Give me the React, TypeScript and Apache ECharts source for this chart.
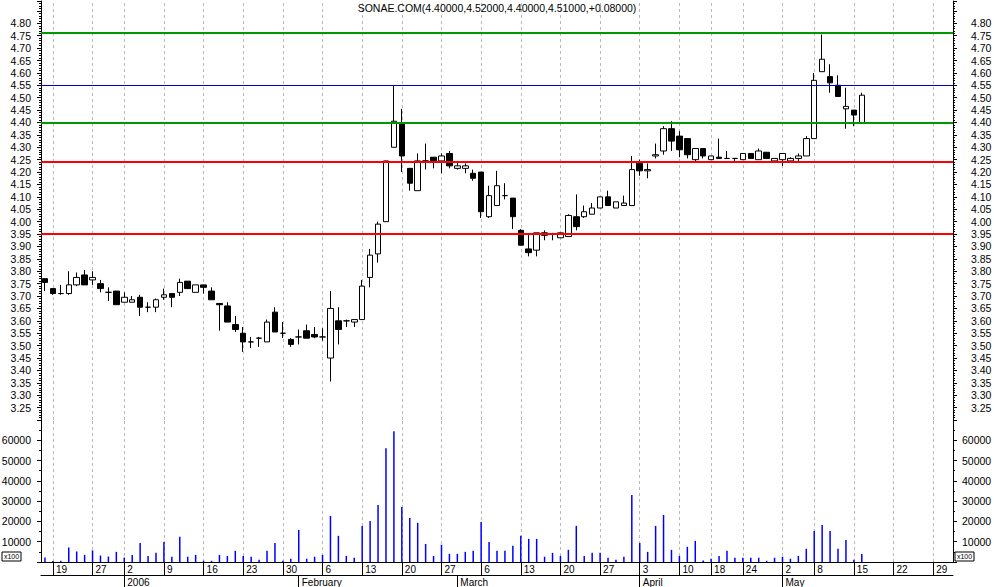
import React, { useEffect, useRef } from 'react';
import * as echarts from 'echarts';

const symbol = 'SONAE.COM';

const categories = [
  '2005-12-16', '2005-12-19', '2005-12-20', '2005-12-21', '2005-12-22', '2005-12-23', '2005-12-27', '2005-12-28', '2005-12-29', '2005-12-30',
  '2006-01-02', '2006-01-03', '2006-01-04', '2006-01-05', '2006-01-06', '2006-01-09', '2006-01-10', '2006-01-11', '2006-01-12', '2006-01-13',
  '2006-01-16', '2006-01-17', '2006-01-18', '2006-01-19', '2006-01-20', '2006-01-23', '2006-01-24', '2006-01-25', '2006-01-26', '2006-01-27',
  '2006-01-30', '2006-01-31', '2006-02-01', '2006-02-02', '2006-02-03', '2006-02-06', '2006-02-07', '2006-02-08', '2006-02-09', '2006-02-10',
  '2006-02-13', '2006-02-14', '2006-02-15', '2006-02-16', '2006-02-17', '2006-02-20', '2006-02-21', '2006-02-22', '2006-02-23', '2006-02-24',
  '2006-02-27', '2006-02-28', '2006-03-01', '2006-03-02', '2006-03-03', '2006-03-06', '2006-03-07', '2006-03-08', '2006-03-09', '2006-03-10',
  '2006-03-13', '2006-03-14', '2006-03-15', '2006-03-16', '2006-03-17', '2006-03-20', '2006-03-21', '2006-03-22', '2006-03-23', '2006-03-24',
  '2006-03-27', '2006-03-28', '2006-03-29', '2006-03-30', '2006-03-31', '2006-04-03', '2006-04-04', '2006-04-05', '2006-04-06', '2006-04-07',
  '2006-04-10', '2006-04-11', '2006-04-12', '2006-04-13', '2006-04-18', '2006-04-19', '2006-04-20', '2006-04-21', '2006-04-24', '2006-04-25',
  '2006-04-26', '2006-04-27', '2006-04-28', '2006-05-02', '2006-05-03', '2006-05-04', '2006-05-05', '2006-05-08', '2006-05-09', '2006-05-10',
  '2006-05-11', '2006-05-12', '2006-05-15', '2006-05-16', '2006-05-17', '2006-05-18', '2006-05-19', '2006-05-22', '2006-05-23', '2006-05-24',
  '2006-05-25', '2006-05-26', '2006-05-29', '2006-05-30', '2006-05-31',
];

const opens = [
  3.77, 3.73, 3.71, 3.71, 3.745, 3.785, 3.765, 3.75, 3.715, 3.72,
  3.675, 3.675, 3.695, 3.655, 3.655, 3.695, 3.71, 3.715, 3.76, 3.715,
  3.745, 3.72, 3.67, 3.66, 3.585, 3.55, 3.515, 3.53, 3.515, 3.635,
  3.55, 3.525, 3.535, 3.56, 3.545, 3.535, 3.45, 3.6, 3.6, 3.595,
  3.605, 3.775, 3.87, 4.0, 4.3, 4.395, 4.215, 4.125, 4.245, 4.26,
  4.245, 4.275, 4.215, 4.215, 4.195, 4.2, 4.02, 4.065, 4.105, 4.095,
  3.965, 3.89, 3.885, 3.955, 3.95, 3.935, 3.94, 4.02, 4.02, 4.03,
  4.055, 4.1, 4.055, 4.065, 4.065, 4.235, 4.205, 4.265, 4.285, 4.375,
  4.345, 4.335, 4.25, 4.295, 4.25, 4.26, 4.255, 4.255, 4.25, 4.275,
  4.25, 4.28, 4.245, 4.25, 4.245, 4.255, 4.265, 4.335, 4.605, 4.585,
  4.55, 4.455, 4.45, 4.4,
];
const highs = [
  3.77, 3.73, 3.745, 3.8, 3.795, 3.805, 3.8, 3.765, 3.735, 3.72,
  3.715, 3.7, 3.705, 3.675, 3.69, 3.73, 3.71, 3.77, 3.76, 3.745,
  3.745, 3.735, 3.67, 3.675, 3.62, 3.575, 3.535, 3.535, 3.605, 3.655,
  3.595, 3.53, 3.565, 3.585, 3.575, 3.57, 3.72, 3.655, 3.605, 3.605,
  3.765, 3.89, 4.0, 4.245, 4.55, 4.455, 4.215, 4.275, 4.315, 4.26,
  4.275, 4.285, 4.245, 4.235, 4.21, 4.2, 4.145, 4.205, 4.155, 4.095,
  3.97, 3.95, 3.955, 3.965, 3.955, 3.955, 4.03, 4.11, 4.065, 4.075,
  4.1, 4.125, 4.08, 4.105, 4.265, 4.25, 4.235, 4.315, 4.385, 4.405,
  4.365, 4.335, 4.295, 4.295, 4.265, 4.335, 4.285, 4.255, 4.275, 4.275,
  4.295, 4.28, 4.255, 4.275, 4.26, 4.275, 4.345, 4.6, 4.755, 4.635,
  4.59, 4.54, 4.45, 4.52,
];
const lows = [
  3.72, 3.705, 3.705, 3.705, 3.74, 3.745, 3.745, 3.715, 3.68, 3.665,
  3.675, 3.675, 3.62, 3.635, 3.635, 3.685, 3.655, 3.7, 3.73, 3.715,
  3.71, 3.685, 3.56, 3.595, 3.555, 3.475, 3.49, 3.495, 3.515, 3.555,
  3.53, 3.495, 3.505, 3.53, 3.53, 3.52, 3.355, 3.505, 3.575, 3.575,
  3.605, 3.735, 3.835, 4.0, 4.3, 4.2, 4.125, 4.125, 4.21, 4.215,
  4.195, 4.215, 4.21, 4.195, 4.165, 4.015, 4.015, 4.065, 4.09, 3.97,
  3.905, 3.86, 3.86, 3.925, 3.925, 3.935, 3.94, 3.965, 4.015, 4.03,
  4.055, 4.065, 4.055, 4.065, 4.065, 4.185, 4.175, 4.255, 4.27, 4.285,
  4.26, 4.255, 4.24, 4.255, 4.25, 4.255, 4.255, 4.245, 4.25, 4.255,
  4.25, 4.255, 4.245, 4.225, 4.245, 4.24, 4.265, 4.335, 4.605, 4.52,
  4.505, 4.375, 4.385, 4.4,
];
const closes = [
  3.755, 3.71, 3.71, 3.745, 3.775, 3.745, 3.775, 3.73, 3.715, 3.665,
  3.695, 3.685, 3.655, 3.655, 3.685, 3.705, 3.695, 3.755, 3.73, 3.745,
  3.735, 3.685, 3.665, 3.595, 3.565, 3.515, 3.515, 3.53, 3.595, 3.555,
  3.55, 3.505, 3.535, 3.53, 3.535, 3.535, 3.65, 3.565, 3.6, 3.605,
  3.74, 3.865, 3.99, 4.245, 4.405, 4.265, 4.155, 4.245, 4.245, 4.245,
  4.265, 4.225, 4.225, 4.225, 4.175, 4.04, 4.105, 4.145, 4.105, 4.02,
  3.905, 3.875, 3.955, 3.945, 3.95, 3.955, 4.025, 3.98, 4.04, 4.055,
  4.1, 4.065, 4.08, 4.075, 4.21, 4.205, 4.21, 4.27, 4.375, 4.325,
  4.29, 4.27, 4.295, 4.265, 4.265, 4.255, 4.255, 4.255, 4.275, 4.255,
  4.285, 4.255, 4.255, 4.275, 4.255, 4.265, 4.335, 4.57, 4.655, 4.56,
  4.505, 4.465, 4.43, 4.51,
];
const volumes = [
  2200, 500, 600, 7100, 5200, 3500, 5700, 3200, 2700, 5000,
  2200, 3500, 9400, 3000, 4500, 9900, 2600, 12400, 2600, 3500,
  600, 600, 3500, 3000, 5500, 3000, 2600, 1100, 5500, 9400,
  600, 1600, 15800, 1600, 2600, 3500, 22700, 12900, 3000, 2100,
  17800, 20200, 28100, 56100, 64500, 27100, 21700, 19300, 8900, 3000,
  8500, 4000, 4000, 5000, 5500, 19700, 9900, 5500, 5500, 8000,
  12900, 11400, 11400, 2600, 4500, 3000, 6000, 17800, 3000, 4500,
  4500, 2100, 1100, 2600, 33000, 9400, 5000, 17800, 23200, 6000,
  3000, 7500, 10400, 800, 1600, 3000, 5500, 2100, 2100, 2100,
  2100, 600, 2100, 2600, 1600, 3000, 6500, 15300, 18300, 15300,
  6500, 10900, 1100, 4000,
];

const weekStarts = [
  '2005-12-19', '2005-12-27', '2006-01-02', '2006-01-09', '2006-01-16', '2006-01-23', '2006-01-30',
  '2006-02-06', '2006-02-13', '2006-02-20', '2006-02-27', '2006-03-06', '2006-03-13', '2006-03-20',
  '2006-03-27', '2006-04-03', '2006-04-10', '2006-04-18', '2006-04-24', '2006-05-02', '2006-05-08',
  '2006-05-15', '2006-05-22', '2006-05-29',
];
const monthStarts = ['2006-01-02', '2006-02-01', '2006-03-01', '2006-04-03', '2006-05-02'];
const monthLabels = ['2006', 'February', 'March', 'April', 'May'];

const levels = [4.76, 4.55, 4.4, 4.24, 3.95];

const priceMin = 3.2;
const priceMax = 4.89;
const priceStep = 0.05;
const priceLabelMin = 3.25;
const priceLabelMax = 4.8;

const volMax = 70000;
const volStep = 10000;
const volLabelMin = 10000;
const volLabelMax = 60000;

const FONT = '"Liberation Sans", Arial, sans-serif';

const levelStyles = [
  { color: '#009900', width: 2, type: 'solid' },
  { color: '#0000cc', width: 1, type: 'solid' },
  { color: '#009900', width: 2, type: 'solid' },
  { color: '#ff0000', width: 2, type: 'solid' },
  { color: '#ff0000', width: 2, type: 'solid' },
];

export default function App() {
  const ref = useRef<HTMLDivElement>(null);

  useEffect(() => {
    if (!ref.current) return;
    const chart = echarts.init(ref.current, null, { renderer: 'svg' });

    const n = opens.length;
    const last = n - 1;
    const change = closes[last] - closes[last - 1];
    const title = `${symbol}(${opens[last].toFixed(5)},${highs[last].toFixed(5)},${lows[last].toFixed(5)},${closes[last].toFixed(5)},${change >= 0 ? '+' : ''}${change.toFixed(5)})`;

    const candles = categories.map((_, i) =>
      i < n ? [opens[i], closes[i], lows[i], highs[i]] : '-'
    );
    const vols = categories.map((_, i) => (i < volumes.length ? volumes[i] : '-'));

    const weekSet = new Set(weekStarts);
    const monthSet = new Set(monthStarts);

    const priceFmt = (v: number) =>
      v >= priceLabelMin - 1e-6 && v <= priceLabelMax + 1e-6 ? v.toFixed(2) : '';
    const volFmt = (v: number) =>
      v >= volLabelMin - 1 && v <= volLabelMax + 1 ? String(Math.round(v)) : '';

    const gridLines = {
      silent: true,
      symbol: ['none', 'none'],
      label: { show: false },
      z: 1,
      animation: false,
      lineStyle: { color: '#b8b8b8', type: [3, 3], width: 1 },
      emphasis: { disabled: true },
      data: weekStarts.map((d) => ({ xAxis: d })),
    };

    const blackLine = { color: '#000', width: 1 };

    const priceAxis = (pos: 'left' | 'right', margin: number) => ({
      type: 'value',
      gridIndex: 0,
      position: pos,
      min: priceMin,
      max: priceMax,
      interval: priceStep,
      axisLine: { show: true, onZero: false, lineStyle: blackLine },
      axisTick: { show: true, length: 4, lineStyle: blackLine },
      minorTick: { show: true, splitNumber: 5, length: 2, lineStyle: blackLine },
      splitLine: { show: false },
      minorSplitLine: { show: false },
      axisLabel: {
        show: true,
        color: '#000',
        fontSize: 10.5,
        fontFamily: FONT,
        margin,
        formatter: priceFmt,
      },
    });

    const volAxis = (pos: 'left' | 'right', margin: number) => ({
      type: 'value',
      gridIndex: 1,
      position: pos,
      min: 0,
      max: volMax,
      interval: volStep,
      axisLine: { show: true, onZero: false, lineStyle: blackLine },
      axisTick: { show: true, length: 4, lineStyle: blackLine },
      minorTick: { show: true, splitNumber: 2, length: 2, lineStyle: blackLine },
      splitLine: { show: false },
      minorSplitLine: { show: false },
      axisLabel: {
        show: true,
        color: '#000',
        fontSize: 10.5,
        fontFamily: FONT,
        margin,
        formatter: volFmt,
      },
    });

    const x100Box = (x: number, y: number) => ({
      type: 'group',
      children: [
        {
          type: 'rect',
          shape: { x, y, width: 19, height: 9 },
          style: { fill: '#fff', stroke: '#000', lineWidth: 1 },
        },
        {
          type: 'text',
          x: x + 9.5,
          y: y + 4.8,
          style: {
            text: 'x100',
            fill: '#000',
            font: `7px ${FONT}`,
            align: 'center',
            verticalAlign: 'middle',
          },
        },
      ],
    });

    const option: any = {
      animation: false,
      backgroundColor: '#fff',
      title: {
        text: title,
        left: 'center',
        top: 2,
        padding: 0,
        textStyle: { fontSize: 10.5, fontWeight: 'normal', color: '#000', fontFamily: FONT },
      },
      grid: [
        { left: 41, right: 41, top: 1, height: 419, containLabel: false, outerBoundsMode: 'none' },
        { left: 41, right: 41, top: 420, height: 142, containLabel: false, outerBoundsMode: 'none' },
      ],
      xAxis: [
        {
          type: 'category',
          gridIndex: 0,
          data: categories,
          boundaryGap: true,
          axisLine: { show: false },
          axisTick: { show: false },
          axisLabel: { show: false },
          splitLine: { show: false },
        },
        {
          type: 'category',
          gridIndex: 1,
          data: categories,
          boundaryGap: true,
          position: 'bottom',
          axisLine: { show: true, onZero: false, lineStyle: blackLine },
          axisTick: {
            show: true,
            alignWithLabel: true,
            length: 13,
            interval: (i: number) => weekSet.has(categories[i]),
            lineStyle: blackLine,
          },
          axisLabel: {
            show: true,
            interval: (i: number) => weekSet.has(categories[i]),
            formatter: (v: string) => String(parseInt(v.slice(8), 10)),
            align: 'left',
            padding: [0, 0, 0, 3],
            margin: 2,
            fontSize: 10,
            color: '#000',
            fontFamily: FONT,
          },
          splitLine: { show: false },
        },
        {
          type: 'category',
          gridIndex: 1,
          data: categories,
          boundaryGap: true,
          position: 'bottom',
          offset: 13,
          axisLine: { show: true, onZero: false, lineStyle: blackLine },
          axisTick: {
            show: true,
            alignWithLabel: true,
            length: 12,
            interval: (i: number) => monthSet.has(categories[i]),
            lineStyle: blackLine,
          },
          axisLabel: {
            show: true,
            interval: (i: number) => monthSet.has(categories[i]),
            formatter: (v: string) => {
              const k = monthStarts.indexOf(v);
              return k >= 0 ? monthLabels[k] : '';
            },
            align: 'left',
            padding: [0, 0, 0, 3],
            margin: 2,
            fontSize: 10,
            color: '#000',
            fontFamily: FONT,
          },
          splitLine: { show: false },
        },
      ],
      yAxis: [priceAxis('left', 10), priceAxis('right', 18), volAxis('left', 10), volAxis('right', 9)],
      series: [
        {
          type: 'line',
          xAxisIndex: 0,
          yAxisIndex: 0,
          data: categories.map(() => '-'),
          showSymbol: false,
          silent: true,
          z: 1,
          markLine: gridLines,
        },
        {
          type: 'candlestick',
          xAxisIndex: 0,
          yAxisIndex: 0,
          data: candles,
          barWidth: 6,
          z: 3,
          itemStyle: {
            color: '#fff',
            color0: '#000',
            borderColor: '#000',
            borderColor0: '#000',
            borderColorDoji: '#000',
            borderWidth: 1,
          },
          markLine: {
            silent: true,
            symbol: ['none', 'none'],
            label: { show: false },
            z: 5,
            animation: false,
            emphasis: { disabled: true },
            data: levels.map((v, i) => ({ yAxis: v, lineStyle: levelStyles[i] })),
          },
        },
        {
          type: 'bar',
          xAxisIndex: 1,
          yAxisIndex: 2,
          data: vols,
          barWidth: 1.5,
          z: 2,
          itemStyle: { color: '#0000ff' },
          markLine: gridLines,
        },
      ],
      graphic: [x100Box(2, 552), x100Box(955, 552)],
    };

    chart.setOption(option);
    return () => chart.dispose();
  }, []);

  return (
    <div
      ref={ref}
      style={{ position: 'absolute', left: 0, top: 0, width: 994, height: 587, background: '#fff' }}
    />
  );
}
